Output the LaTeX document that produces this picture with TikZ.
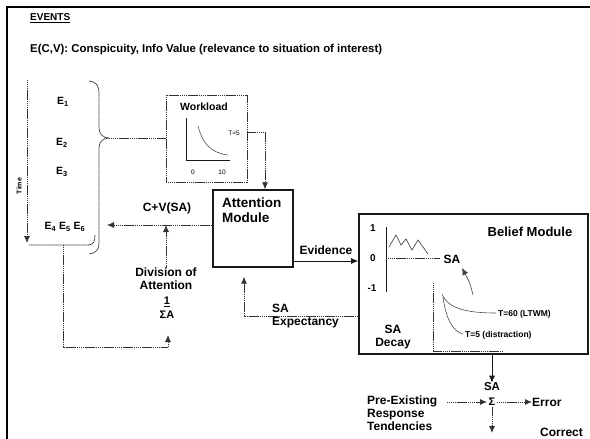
\documentclass[tikz,border=0pt]{standalone}
\usepackage{fontspec}
\setmainfont{Liberation Sans}
\usetikzlibrary{arrows.meta,calc}
\begin{document}
\begin{tikzpicture}[x=1pt,y=-1pt,
  lbl/.style={font=\bfseries\fontsize{12}{13}\selectfont,inner sep=0pt},
  big/.style={font=\bfseries\fontsize{13.5}{15}\selectfont,inner sep=0pt},
  small/.style={font=\bfseries\fontsize{7}{8}\selectfont,inner sep=0pt},
  dotline/.style={draw=black!80,line width=0.8pt,dash pattern=on 1.4pt off 0.5pt},
  solidline/.style={draw=black!90,line width=0.9pt},
  arr/.style={-{Latex[length=7pt,width=6pt]}},
]
\useasboundingbox (0,0) rectangle (590,439);
% frame
\draw[black,line width=1.2pt] (7,439) -- (7,7) -- (590,7);

% titles
\node[font=\bfseries\fontsize{10}{11}\selectfont,inner sep=0pt,anchor=west] (events) at (30,18) {\underline{EVENTS}};
\node[font=\bfseries\fontsize{11.4}{12}\selectfont,inner sep=0pt,anchor=west] (ecv) at (30,50) {E(C,V): Conspicuity, Info Value (relevance to situation of interest)};

% time axis and events box
\coordinate (t0) at (27,80);
\coordinate (t1) at (27,243);
\draw[dotline,arr] (t0) -- (t1);
\node[small,rotate=90] (time) at (19,186) {Time};
\coordinate (eb) at (63,245);
\draw[dotline] (29,245) -- (88,245) .. controls (93,245) and (95,242) .. (95,235);
% brace
\coordinate (bt) at (109,138);
\draw[dotline] (89,81) .. controls (97,82) and (99,86) .. (99,94) -- (99,128) .. controls (99,134) and (103,138) .. (bt) .. controls (103,138) and (99,142) .. (99,148) -- (99,243) .. controls (99,250) and (96,253) .. (89,254);

\node[font=\bfseries\fontsize{10.5}{11}\selectfont,inner sep=0pt] (e1) at (63,102) {E\textsubscript{1}};
\node[font=\bfseries\fontsize{10.5}{11}\selectfont,inner sep=0pt] (e2) at (62,143) {E\textsubscript{2}};
\node[font=\bfseries\fontsize{10.5}{11}\selectfont,inner sep=0pt] (e3) at (62,172) {E\textsubscript{3}};
\node[font=\bfseries\fontsize{10.5}{11}\selectfont,inner sep=0pt] (e456) at (65,227) {E\textsubscript{4} E\textsubscript{5} E\textsubscript{6}};

% workload box
\node[dotline,minimum width=81pt,minimum height=87pt,inner sep=0pt] (wl) at (206.5,138.5) {};
\node[font=\bfseries\fontsize{10.5}{12}\selectfont,inner sep=0pt] (wlt) at (204,107) {Workload};
\draw[solidline,line width=0.7pt] (186,118) -- (186,160) -- (230,160);
\draw[draw=black!70,line width=0.6pt] (198,126) .. controls (203,145) and (212,153) .. (228,155);
\node[font=\fontsize{6.5}{7}\selectfont,inner sep=0pt] (t5w) at (234,133) {T=5};
\node[font=\fontsize{6.5}{7}\selectfont,inner sep=0pt] (x0) at (193,172) {0};
\node[font=\fontsize{6.5}{7}\selectfont,inner sep=0pt] (x10) at (222,172) {10};
\draw[dotline] (bt) -- (bt -| wl.west);

% attention module
\node[draw=black!90,line width=1.4pt,minimum width=80pt,minimum height=77pt,inner sep=0pt] (att) at (253,228.5) {};
\node[big,align=left,anchor=north west] (attt) at (222,198) {Attention\\Module};
\coordinate (w1) at (265,132);
\draw[dotline,arr] (wl.east |- w1) -- (w1) -- (w1 |- att.north);

% C+V(SA)
\coordinate (cv) at (107,225);
\draw[dotline,arr] (att.west |- cv) -- (cv);
\node[lbl] (cvt) at (167,208) {C+V(SA)};
\node[lbl,align=center] (div) at (166,279) {Division of\\Attention};
\draw[dotline,arr] (div.north) -- (div.north |- cv);
\node[font=\bfseries\fontsize{11}{14}\selectfont,inner sep=0pt,align=center] (frac) at (167,308) {\underline{1}\\ΣA};
\coordinate (fb) at (168,347);
\draw[dotline,arr] (eb) -- (eb |- fb) -- (fb) -- (168,335);

% belief module
\node[draw=black!90,line width=1.6pt,minimum width=229pt,minimum height=140pt,inner sep=0pt] (bel) at (473.5,284) {};
\node[font=\bfseries\fontsize{13}{14}\selectfont,inner sep=0pt] (belt) at (530,232) {Belief Module};
\coordinate (ev) at (300,261);
\draw[solidline,arr] (att.east |- ev) -- (bel.west |- ev);
\node[lbl] (evt) at (326,250) {Evidence};
\coordinate (se) at (244,316);
\draw[dotline,arr,shorten >=9pt] (bel.west |- se) -- (se) -- (se |- att.south);
\node[lbl,align=left,anchor=west] (set) at (272,316) {SA\\Expectancy};

% belief internals
\draw[solidline,line width=0.7pt] (386,227) -- (386,292);
\draw[dotline] (386,258) -- (440,258);
\draw[draw=black!80,line width=0.6pt] (389,247) -- (396,235) -- (401,245) -- (406,239) -- (412,250) -- (418,240) -- (428,254);
\node[font=\bfseries\fontsize{10}{11}\selectfont,inner sep=0pt] (l1) at (373,228) {1};
\node[font=\bfseries\fontsize{10}{11}\selectfont,inner sep=0pt] (l0) at (373,258) {0};
\node[font=\bfseries\fontsize{10}{11}\selectfont,inner sep=0pt] (lm1) at (372,288) {-1};
\node[lbl] (sa1) at (452,259) {SA};
\coordinate (sap) at (473,295);
\draw[draw=black!75,line width=0.6pt,arr] (sap) .. controls (470,283) .. (462,268);
\node[lbl,align=center] (sad) at (393,337) {SA\\Decay};
\draw[dotline] (433,283) -- (433,351) -- (502,351);
\draw[draw=black!70,line width=0.6pt] (442,294) .. controls (448,309) and (468,313) .. (496,313);
\draw[draw=black!70,line width=0.6pt] (443,297) .. controls (446,318) and (452,331) .. (463,334);
\node[font=\bfseries\fontsize{8.5}{9}\selectfont,inner sep=0pt,anchor=west] (t60) at (498,314) {T=60 (LTWM)};
\node[font=\bfseries\fontsize{8.5}{9}\selectfont,inner sep=0pt,anchor=west] (t5) at (465,335) {T=5 (distraction)};

% output
\node[font=\bfseries\fontsize{11.5}{12}\selectfont,inner sep=0pt] (sa2) at (492,387) {SA};
\draw[solidline,arr] (sa2 |- bel.south) -- (sa2.north);
\node[font=\bfseries\fontsize{11}{12}\selectfont,inner sep=1.5pt] (sig) at (492,402) {Σ};
\node[lbl,align=left,anchor=north west] (pre) at (367,396) {Pre-Existing\\Response\\Tendencies};
\node[lbl,anchor=west] (err) at (532,402) {Error};
\node[lbl,anchor=west] (cor) at (540,432) {Correct};
\draw[dotline,arr] (447,402) -- (sig.west);
\draw[dotline,arr] (sig.east) -- (err.west);
\coordinate (ct) at (492,433);
\draw[dotline,arr] (sig.south) -- (ct);
\end{tikzpicture}
\end{document}
